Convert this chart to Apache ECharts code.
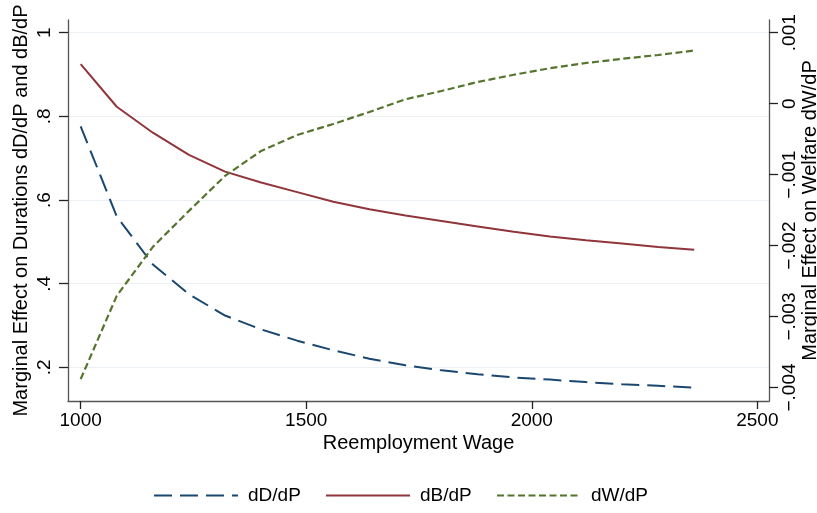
<!DOCTYPE html>
<html><head><meta charset="utf-8">
<script src="https://cdn.jsdelivr.net/npm/echarts@6/dist/echarts.min.js"></script>
<style>html,body{margin:0;padding:0;background:#fff}#c{width:817px;height:513px}</style>
</head><body><div id="c"></div>
<script>
const wages = [1000,1080,1160,1240,1320,1400,1480,1560,1640,1720,1800,1880,1960,2040,2120,2200,2280,2360];
const dD = [0.776,0.561,0.446,0.375,0.324,0.291,0.264,0.241,0.221,0.205,0.193,0.184,0.176,0.171,0.165,0.160,0.156,0.152];
const dB = [0.925,0.823,0.761,0.708,0.668,0.642,0.619,0.596,0.578,0.563,0.550,0.537,0.524,0.513,0.504,0.496,0.488,0.481];
const dW = [-0.003882,-0.002708,-0.002018,-0.001511,-0.001018,-0.000666,-0.000441,-0.000286,-0.000117,0.000062,0.000179,0.000306,0.000407,0.000499,0.000573,0.000632,0.000686,0.000749];
const xTicks = [1000,1500,2000,2500];
const leftTicks = [0.2,0.4,0.6,0.8,1];
const rightTicks = [-0.004,-0.003,-0.002,-0.001,0,0.001];
const seriesNames = ['dD/dP','dB/dP','dW/dP'];
const colors = ['#1a476f','#90353b','#55752f'];

const FONT = 'Liberation Sans, Arial, sans-serif';
const axisCol = '#555';
const pair = arr => wages.map((w,i)=>[w,arr[i]]);
const leftFmt = v => { const r = Math.round(v*10)/10; return r===1 ? '1' : String(r).replace(/^0/,''); };
const rightFmt = v => { const r = Math.round(v*1000)/1000; if (r===0) return '0'; return (r<0?'\u2212':'') + Math.abs(r).toFixed(3).replace(/^0/,''); };

const chart = echarts.init(document.getElementById('c'), null, {renderer:'canvas'});
const mkLegend = (name, left) => ({
  data:[name], left:left, top:486, padding:0, itemWidth:84, itemHeight:18, itemGap:0,
  itemStyle:{opacity:0},
  textStyle:{fontFamily:FONT, fontSize:19, color:'#000', padding:[0,0,0,5]}
});
chart.setOption({
  backgroundColor:'#fff',
  animation:false,
  grid:{left:68, right:48, top:20, bottom:112, containLabel:false, outerBoundsMode:'none'},
  legend:[mkLegend(seriesNames[0],153), mkLegend(seriesNames[1],325), mkLegend(seriesNames[2],496)],
  xAxis:{
    type:'value', min:971.9, max:2525.8,
    name:'Reemployment Wage', nameLocation:'middle', nameGap:32, nameMoveOverlap:false,
    nameTextStyle:{fontFamily:FONT, fontSize:20, color:'#000'},
    axisLine:{show:true, onZero:false, lineStyle:{color:axisCol, width:1.3}},
    axisTick:{show:true, inside:false, length:8, customValues:xTicks, lineStyle:{color:'#222', width:1.3}},
    axisLabel:{customValues:xTicks, margin:10, fontFamily:FONT, fontSize:19, color:'#000', formatter:v=>String(v)},
    splitLine:{show:false}
  },
  yAxis:[{
    type:'value', min:0.1198, max:1.0303, position:'left',
    name:'Marginal Effect on Durations dD/dP and dB/dP', nameLocation:'middle', nameGap:37, nameMoveOverlap:false,
    nameTextStyle:{fontFamily:FONT, fontSize:20, color:'#000'},
    axisLine:{show:true, onZero:false, lineStyle:{color:axisCol, width:1.3}},
    axisTick:{show:true, length:9, customValues:leftTicks, lineStyle:{color:'#222', width:1.3}},
    axisLabel:{customValues:leftTicks, rotate:90, margin:14, fontFamily:FONT, fontSize:19, color:'#000', formatter:leftFmt},
    splitLine:{show:true, lineStyle:{color:'#eaf0f3', width:1.2}}
  },{
    type:'value', min:-0.00419, max:0.001179, position:'right',
    name:'Marginal Effect on Welfare dW/dP', nameLocation:'middle', nameGap:31, nameMoveOverlap:false,
    nameTextStyle:{fontFamily:FONT, fontSize:20, color:'#000'},
    axisLine:{show:true, onZero:false, lineStyle:{color:axisCol, width:1.3}},
    axisTick:{show:true, length:9, customValues:rightTicks, lineStyle:{color:'#222', width:1.3}},
    axisLabel:{customValues:rightTicks, rotate:90, margin:11, fontFamily:FONT, fontSize:19, color:'#000', formatter:rightFmt},
    splitLine:{show:false}
  }],
  series:[
    {name:seriesNames[0], type:'line', yAxisIndex:0, data:pair(dD), symbol:'none', color:colors[0],
     lineStyle:{color:colors[0], width:2, type:[18,8]}},
    {name:seriesNames[1], type:'line', yAxisIndex:0, data:pair(dB), symbol:'none', color:colors[1],
     lineStyle:{color:colors[1], width:2, type:'solid'}},
    {name:seriesNames[2], type:'line', yAxisIndex:1, data:pair(dW), symbol:'none', color:colors[2],
     lineStyle:{color:colors[2], width:2.2, type:[7,3.5]}}
  ]
});
</script>
</body></html>
